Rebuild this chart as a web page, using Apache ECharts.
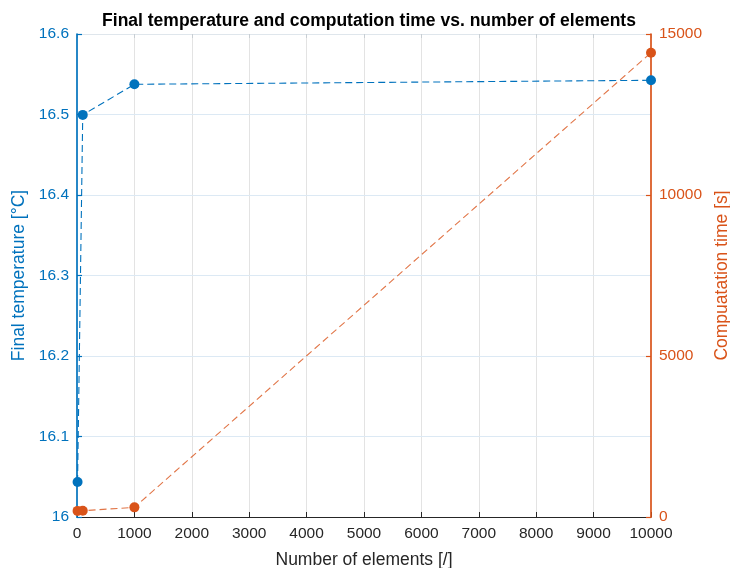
<!DOCTYPE html>
<html>
<head>
<meta charset="utf-8">
<script src="https://cdn.jsdelivr.net/npm/echarts@6/dist/echarts.min.js"></script>
<style>
  html, body { margin: 0; padding: 0; background: #fff; }
  #chart { width: 730px; height: 568px; }
</style>
</head>
<body>
<div id="chart"></div>
<script>
// Mesh sizes studied
const elements = [10, 100, 1000, 10000];
// Final temperature reached for each mesh [°C]
const finalTemperature = [16.0435, 16.4995, 16.5375, 16.5425];
// Wall-clock computation time for each mesh [s]
const computationTime = [190, 195, 300, 14420];

const blue = '#0072BD';
const orange = '#D95319';
const ink = '#262626';
const font = '"Liberation Sans", Arial, Helvetica, sans-serif';

const chart = echarts.init(document.getElementById('chart'), null, { renderer: 'canvas' });

chart.setOption({
  animation: false,
  backgroundColor: '#ffffff',
  textStyle: { fontFamily: font },
  title: {
    text: 'Final temperature and computation time vs. number of elements',
    left: 364,
    textAlign: 'center',
    top: 7,
    textStyle: { fontFamily: font, fontWeight: 'bold', fontSize: 17.5, color: '#000' }
  },
  grid: {
    left: 77, right: 79, top: 34, bottom: 51,
    outerBoundsMode: 'none',
    containLabel: false,
    show: false
  },
  xAxis: [{
    type: 'value',
    min: 0, max: 10000, interval: 1000,
    name: 'Number of elements [/]',
    nameLocation: 'middle',
    nameGap: 34,
    nameTextStyle: { fontFamily: font, fontSize: 17.5, color: ink },
    axisLine: { show: true, onZero: false, lineStyle: { color: ink, width: 1 } },
    axisTick: { show: true, inside: true, length: 5, lineStyle: { color: ink } },
    axisLabel: { fontFamily: font, fontSize: 15.5, color: ink, margin: 9, formatter: v => String(v) },
    splitLine: { show: true, showMinLine: false, showMaxLine: false, lineStyle: { color: '#e3e3e3', width: 1 } },
    z: 1
  }, {
    type: 'value',
    position: 'top',
    min: 0, max: 10000, interval: 1000,
    axisLine: { show: true, onZero: false, lineStyle: { color: '#dfe6ec', width: 1 } },
    axisTick: { show: true, inside: true, length: 4, lineStyle: { color: '#c8ced3' } },
    axisLabel: { show: false },
    splitLine: { show: false },
    z: 1
  }],
  yAxis: [{
    type: 'value',
    min: 16, max: 16.6, interval: 0.1,
    position: 'left',
    name: 'Final temperature [°C]',
    nameLocation: 'middle',
    nameGap: 46,
    nameTextStyle: { fontFamily: font, fontSize: 17.5, color: blue },
    axisLine: { show: true, onZero: false, lineStyle: { color: blue, width: 1.7 } },
    axisTick: { show: true, inside: true, length: 5, lineStyle: { color: blue, width: 1.2 } },
    axisLabel: {
      fontFamily: font, fontSize: 15.5, color: blue, margin: 8,
      formatter: v => String(Math.round(v * 10) / 10)
    },
    splitLine: { show: true, showMinLine: false, showMaxLine: false, lineStyle: { color: '#dce9f4', width: 1 } },
    z: 2
  }, {
    type: 'value',
    min: 0, max: 15000, interval: 5000,
    position: 'right',
    name: 'Compuatation time [s]',
    nameLocation: 'middle',
    nameGap: 61,
    nameTextStyle: { fontFamily: font, fontSize: 17.5, color: orange },
    axisLine: { show: true, onZero: false, lineStyle: { color: orange, width: 1.7 } },
    axisTick: { show: true, inside: true, length: 5, lineStyle: { color: orange, width: 1.2 } },
    axisLabel: { fontFamily: font, fontSize: 15.5, color: orange, margin: 8, formatter: v => String(v) },
    splitLine: { show: false },
    z: 2
  }],
  series: [{
    name: 'Final temperature',
    type: 'line',
    xAxisIndex: 0,
    yAxisIndex: 0,
    data: elements.map((n, i) => [n, finalTemperature[i]]),
    symbol: 'circle',
    symbolSize: 10,
    itemStyle: { color: blue },
    lineStyle: { color: blue, width: 1.1, type: [7, 4] },
    z: 3
  }, {
    name: 'Computation time',
    type: 'line',
    xAxisIndex: 0,
    yAxisIndex: 1,
    data: elements.map((n, i) => [n, computationTime[i]]),
    symbol: 'circle',
    symbolSize: 10,
    itemStyle: { color: orange },
    lineStyle: { color: orange, width: 1.1, type: [7, 4], opacity: 0.8 },
    z: 4
  }]
});
</script>
</body>
</html>
